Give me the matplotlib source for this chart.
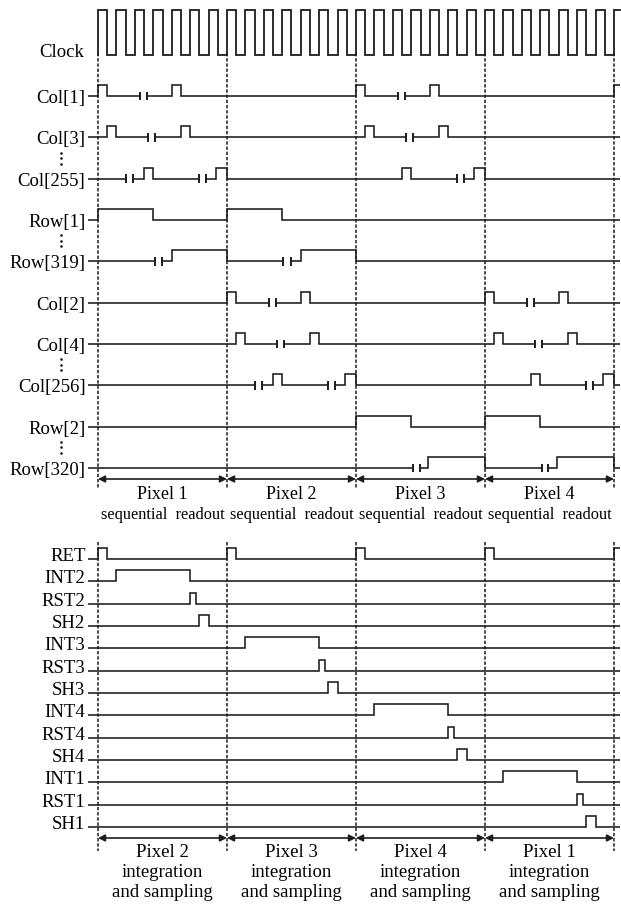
import numpy as np
import matplotlib
matplotlib.use("Agg")
import matplotlib.pyplot as plt

plt.rcParams['font.family'] = ['Liberation Serif', 'DejaVu Serif']

# ---------------- data (time in clock cycles, 7 cycles per pixel slot) ----------------
pixel_bounds = [0, 7, 14, 21, 28]
clock_rises = [0, 1, 2, 3, 4, 5, 6, 7, 8, 9, 10, 11, 12, 13, 14, 15, 16, 17, 18, 19,
               20, 21, 22, 23, 24, 25, 26, 27, 28]
clock_duty = 0.5

top_names = ['Col[1]', 'Col[3]', 'Col[255]', 'Row[1]', 'Row[319]',
             'Col[2]', 'Col[4]', 'Col[256]', 'Row[2]', 'Row[320]']
top_highs = [
    [(0, 0.5), (4, 4.5), (14, 14.5), (18, 18.5), (28, 28.6)],
    [(0.5, 1), (4.5, 5), (14.5, 15), (18.5, 19)],
    [(2.5, 3), (6.4, 7), (16.5, 17), (20.4, 21)],
    [(0, 3), (7, 10)],
    [(4, 7), (11, 14)],
    [(7, 7.5), (11, 11.5), (21, 21.5), (25, 25.5)],
    [(7.5, 8), (11.5, 12), (21.5, 22), (25.5, 26)],
    [(9.5, 10), (13.4, 14), (23.5, 24), (27.4, 28)],
    [(14, 17), (21, 24)],
    [(17.9, 21), (24.9, 28)],
]
top_breaks = [
    [(2.3, 2.65), (16.3, 16.65)],
    [(2.72, 3.1), (16.72, 17.1)],
    [(1.5, 1.88), (5.5, 5.87), (19.5, 19.85)],
    [],
    [(3.08, 3.47), (10.06, 10.47)],
    [(9.3, 9.65), (23.3, 23.65)],
    [(9.72, 10.1), (23.72, 24.1)],
    [(8.5, 8.88), (12.5, 12.87), (26.5, 26.85)],
    [],
    [(17.1, 17.45), (24.1, 24.42)],
]
top_ellipsis_after = ['Col[3]', 'Row[1]', 'Col[4]', 'Row[2]']
top_slot_titles = ['Pixel 1', 'Pixel 2', 'Pixel 3', 'Pixel 4']
top_slot_sub = ['sequential  readout'] * 4

bot_names = ['RET', 'INT2', 'RST2', 'SH2', 'INT3', 'RST3', 'SH3',
             'INT4', 'RST4', 'SH4', 'INT1', 'RST1', 'SH1']
bot_highs = [
    [(0, 0.5), (7, 7.5), (14, 14.5), (21, 21.5), (28, 28.6)],
    [(1, 5)], [(5, 5.3)], [(5.5, 6)],
    [(8, 12)], [(12, 12.3)], [(12.5, 13)],
    [(15, 19)], [(19, 19.3)], [(19.5, 20)],
    [(22, 26)], [(26, 26.3)], [(26.5, 27)],
]
bot_slot_titles = ['Pixel 2', 'Pixel 3', 'Pixel 4', 'Pixel 1']
bot_slot_sub1 = ['integration'] * 4
bot_slot_sub2 = ['and sampling'] * 4

# ---------------- layout (pixels) ----------------
W, H = 621, 905
X0, PXC = 98.0, 516.0 / 28.0           # t=0 at x=98 px, px per cycle
T_LEAD = (88 - X0) / PXC
T_END = (620 - X0) / PXC
SPLIT = 530
Y0T, ST = 54.7, 41.33                   # top section
Y0B, SB = 559.0, 22.33                  # bottom section
AMP_PX = 11.0
CLK_PX = 44.5
LW = 1.15
COL = '#1c1c1c'


def px2t(px):
    return (px - X0) / PXC


fig = plt.figure(figsize=(W / 100, H / 100), dpi=100)
axt = fig.add_axes([0, 1 - SPLIT / H, 1, SPLIT / H])
axb = fig.add_axes([0, 0, 1, 1 - SPLIT / H])
for ax in (axt, axb):
    ax.set_xlim(px2t(0), px2t(W))
    ax.axis('off')
axt.set_ylim((SPLIT - Y0T) / ST, (0 - Y0T) / ST)
axb.set_ylim((H - Y0B) / SB, (SPLIT - Y0B) / SB)


def ty(px):
    return (px - Y0T) / ST


def by(px):
    return (px - Y0B) / SB


def build(highs, breaks, t0, t1):
    ev = []
    for a, b in highs:
        ev.append((a, 'up', None))
        ev.append((b, 'down', None))
    for a, b in breaks:
        ev.append((a, 'cut', b))
    ev.sort(key=lambda e: e[0])
    xs, ys, lvl = [t0], [0.0], 0.0
    for t, kind, b in ev:
        if t > t1:
            continue
        if kind == 'up':
            xs += [t, t]; ys += [lvl, 1.0]; lvl = 1.0
        elif kind == 'down':
            xs += [t, t]; ys += [lvl, 0.0]; lvl = 0.0
        else:
            xs += [t, np.nan, b]; ys += [lvl, np.nan, lvl]
    xs.append(t1); ys.append(lvl)
    return np.array(xs, float), np.array(ys, float)


def draw_signal(ax, row, highs, breaks, amp, bar_h):
    xs, ys = build(highs, breaks, T_LEAD, T_END)
    ax.plot(xs, row - ys * amp, color=COL, lw=LW, solid_joinstyle='miter',
            solid_capstyle='butt')
    for a, b in breaks:
        for t in (a, b):
            ax.plot([t, t], [row - bar_h, row + bar_h], color=COL, lw=1.4,
                    solid_capstyle='butt')


# ---------------- top section ----------------
clk_amp = CLK_PX / ST
cx, cy = [clock_rises[0]], [0.0]
for r in clock_rises:
    cx += [r, r, r + clock_duty, r + clock_duty]
    cy += [0.0, 1.0, 1.0, 0.0]
cx, cy = cx[:-2], cy[:-2]
cx += [T_END]; cy += [1.0]
axt.plot(cx, 0 - np.array(cy) * clk_amp, color=COL, lw=1.3, solid_joinstyle='miter')
axt.text(px2t(84), ty(57.5), 'Clock', ha='right', va='baseline', fontsize=13.5)

amp_t = AMP_PX / ST
for i, (name, hs, bs) in enumerate(zip(top_names, top_highs, top_breaks)):
    row = i + 1
    draw_signal(axt, row, hs, bs, amp_t, 4.2 / ST)
    axt.text(px2t(85.5), row + 7.0 / ST, name, ha='right', va='baseline', fontsize=13.5)
    if name in top_ellipsis_after:
        yc = row + 0.5
        axt.plot([px2t(61.5)] * 3, [yc - 5.5 / ST, yc, yc + 5.5 / ST], 'o',
                 ms=1.9, color=COL, mec='none')

for t in pixel_bounds:
    axt.plot([t, t], [ty(53), ty(488)], color=COL, lw=1.1, ls=(0, (2.2, 1.2)))
for k in range(len(pixel_bounds) - 1):
    a, b = pixel_bounds[k], pixel_bounds[k + 1]
    axt.annotate('', xy=(b, ty(479)), xytext=(a, ty(479)),
                 arrowprops=dict(arrowstyle='<|-|>', color=COL, lw=1.2,
                                 mutation_scale=10, shrinkA=0, shrinkB=0))
    m = (a + b) / 2
    axt.text(m, ty(499), top_slot_titles[k], ha='center', va='baseline', fontsize=13)
    axt.text(m, ty(519), top_slot_sub[k], ha='center', va='baseline', fontsize=11.8)

# ---------------- bottom section ----------------
amp_b = AMP_PX / SB
for i, (name, hs) in enumerate(zip(bot_names, bot_highs)):
    draw_signal(axb, i, hs, [], amp_b, 0)
    axb.text(px2t(85.5), i + 2.0 / SB, name, ha='right', va='baseline', fontsize=13.5)

for t in pixel_bounds:
    axb.plot([t, t], [by(542), by(851)], color=COL, lw=1.1, ls=(0, (2.2, 1.2)))
for k in range(len(pixel_bounds) - 1):
    a, b = pixel_bounds[k], pixel_bounds[k + 1]
    axb.annotate('', xy=(b, by(838)), xytext=(a, by(838)),
                 arrowprops=dict(arrowstyle='<|-|>', color=COL, lw=1.2,
                                 mutation_scale=10, shrinkA=0, shrinkB=0))
    m = (a + b) / 2
    axb.text(m, by(857), bot_slot_titles[k], ha='center', va='baseline', fontsize=13.5)
    axb.text(m, by(877), bot_slot_sub1[k], ha='center', va='baseline', fontsize=13.5)
    axb.text(m, by(897), bot_slot_sub2[k], ha='center', va='baseline', fontsize=13.5)

fig.savefig('out.png', dpi=100, facecolor='white')
